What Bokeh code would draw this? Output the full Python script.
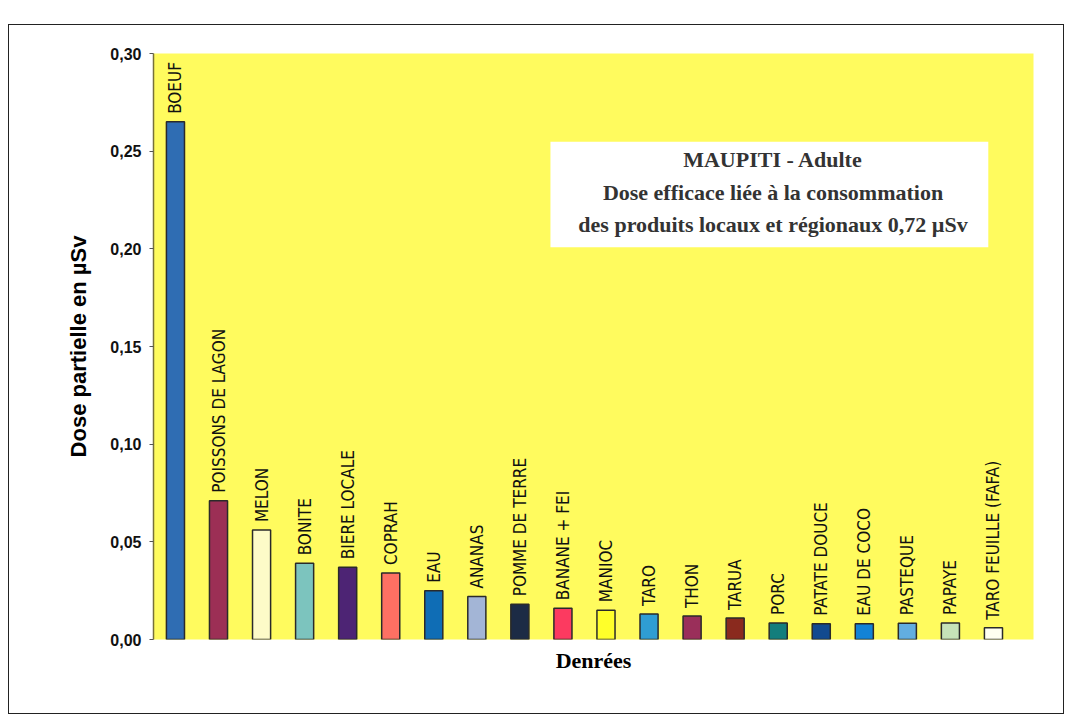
from math import pi

from bokeh.plotting import figure
from bokeh.models import (Range1d, FixedTicker, CustomJSTickFormatter,
                          BoxAnnotation, Label, ColumnDataSource)
from bokeh.core.properties import value
from bokeh.embed import file_html
from bokeh.resources import INLINE

# Partial effective dose by foodstuff (µSv), Maupiti adult
categories = [
    "BOEUF", "POISSONS DE LAGON", "MELON", "BONITE", "BIERE LOCALE",
    "COPRAH", "EAU", "ANANAS", "POMME DE TERRE", "BANANE + FEI",
    "MANIOC", "TARO", "THON", "TARUA", "PORC", "PATATE DOUCE",
    "EAU DE COCO", "PASTEQUE", "PAPAYE", "TARO FEUILLE (FAFA)",
]
doses = [
    0.265, 0.071, 0.056, 0.039, 0.037,
    0.034, 0.025, 0.022, 0.018, 0.016,
    0.015, 0.013, 0.012, 0.011, 0.0085, 0.008,
    0.008, 0.0083, 0.0085, 0.006,
]
bar_colors = [
    "#2f6db3", "#9c2f55", "#fdfbc8", "#7cc4be", "#4d2474",
    "#fe7063", "#0f6db5", "#a3b5d6", "#1c2b45", "#fc3a60",
    "#ffff2a", "#2f9dd3", "#9a2f5a", "#8a2a1e", "#137e7c", "#124a8f",
    "#1283d6", "#62aee0", "#c6e3b8", "#fffff0",
]
y_ticks = [0.0, 0.05, 0.10, 0.15, 0.20, 0.25, 0.30]

title_lines = [
    "MAUPITI - Adulte",
    "Dose efficace liée à la consommation",
    "des produits locaux et régionaux 0,72 µSv",
]

positions = list(range(len(categories)))
src = ColumnDataSource(dict(x=positions, top=doses, color=bar_colors,
                            label=categories))

p = figure(width=1054, height=688, output_backend="svg", toolbar_location=None,
           x_range=Range1d(-0.51, 19.93), y_range=Range1d(0, 0.30),
           min_border_left=144, min_border_right=32,
           min_border_top=28, min_border_bottom=76)
p.styles = {"margin-left": "8px", "margin-top": "24px",
            "border": "1.5px solid #222", "box-sizing": "content-box"}

p.background_fill_color = "#fffb5e"
p.border_fill_color = "white"
p.outline_line_color = None
p.xgrid.visible = False
p.ygrid.visible = False

# bars
p.vbar(x="x", top="top", bottom=0, width=0.42, source=src,
       fill_color="color", line_color="#2a2a2a", line_width=1.5)

# vertical labels above the bars
p.text(x="x", y="top", text="label", source=src, angle=pi / 2,
       text_align="left", text_baseline="middle", y_offset=-8,
       text_font=value("DejaVu Sans Condensed, DejaVu Sans, sans-serif"),
       text_font_size="17px", text_color="#111111")

# y axis
p.yaxis.ticker = FixedTicker(ticks=y_ticks)
p.yaxis.formatter = CustomJSTickFormatter(
    code="return tick.toFixed(2).replace('.', ',');")
p.yaxis.minor_tick_line_color = None
p.yaxis.major_tick_in = 0
p.yaxis.major_tick_out = 4
p.yaxis.major_tick_line_color = "#555555"
p.yaxis.axis_line_color = "#77703a"
p.yaxis.axis_line_width = 1.5
p.yaxis.major_label_standoff = 8
p.yaxis.major_label_text_font = "Liberation Sans"
p.yaxis.major_label_text_font_style = "bold"
p.yaxis.major_label_text_font_size = "16px"
p.yaxis.major_label_text_color = "#111111"
p.yaxis.axis_label = "Dose partielle en µSv"
p.yaxis.axis_label_text_font = "Liberation Sans"
p.yaxis.axis_label_text_font_style = "bold"
p.yaxis.axis_label_text_font_size = "22px"
p.yaxis.axis_label_text_color = "black"
p.yaxis.axis_label_standoff = 16

# x axis: only the title
p.xaxis.ticker = FixedTicker(ticks=[])
p.xaxis.axis_line_color = None
p.xaxis.major_tick_line_color = None
p.xaxis.minor_tick_line_color = None
p.xaxis.axis_label = "Denrées"
p.xaxis.axis_label_text_font = "Liberation Serif"
p.xaxis.axis_label_text_font_style = "bold"
p.xaxis.axis_label_text_font_size = "22px"
p.xaxis.axis_label_text_color = "black"
p.xaxis.axis_label_standoff = 8

# caption box
p.add_layout(BoxAnnotation(left=8.71, right=18.88, bottom=0.2008, top=0.2548,
                           fill_color="white", fill_alpha=1.0,
                           line_color=None))
for i, line in enumerate(title_lines):
    p.add_layout(Label(x=13.88, y=0.2455 - i * 0.0165, text=line,
                       text_align="center", text_baseline="middle",
                       text_font="Liberation Serif", text_font_style="bold",
                       text_font_size="22px", text_color="#333333"))

open("out.html", "w").write(file_html(p, INLINE))
